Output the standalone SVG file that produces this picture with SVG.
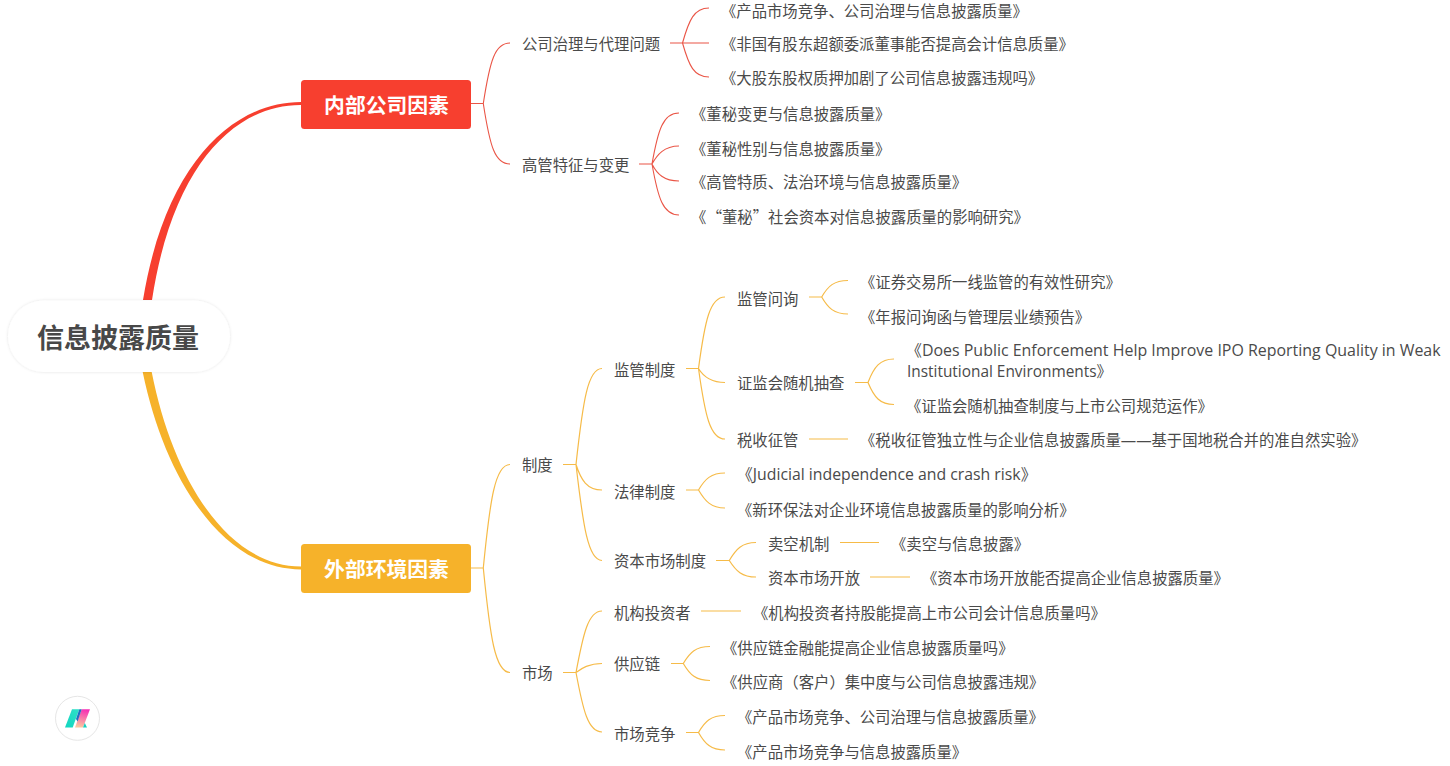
<svg xmlns="http://www.w3.org/2000/svg" width="1450" height="766" viewBox="0 0 1450 766">
<defs>
<style>
text{font-family:"Open Sans","Noto Sans CJK SC",sans-serif;font-size:15.35px;fill:#4a4a4a}
text.la{font-size:15.95px}
text.cjk{font-family:"Noto Sans CJK SC",sans-serif}
.r{fill:none;stroke:#ea5546;stroke-width:1.1}
.o{fill:none;stroke:#f6bb48;stroke-width:1.2}
text.main{font-family:"Noto Sans CJK SC",sans-serif;font-weight:700;font-size:20.8px;fill:#fff;text-anchor:middle}
text.root{font-family:"Noto Sans CJK SC",sans-serif;font-weight:700;font-size:27px;fill:#484848;text-anchor:middle}
</style>
<filter id="sh" x="-10%" y="-20%" width="120%" height="140%"><feDropShadow dx="0" dy="0" stdDeviation="1.5" flood-color="#000" flood-opacity="0.12"/></filter>
<linearGradient id="g1" x1="0" y1="1" x2="1" y2="0"><stop offset="0" stop-color="#12d6c0"/><stop offset="1" stop-color="#2fe0c8"/></linearGradient>
<linearGradient id="g2" x1="0.4" y1="1" x2="0.6" y2="0"><stop offset="0" stop-color="#fbc8a0"/><stop offset="1" stop-color="#f62fb4"/></linearGradient>
</defs>
<rect width="1450" height="766" fill="#fff"/>
<g id="connectors">
<path d="M143,300C165,165 232,102 301,102L301,105C233,104.5 172,168 152,300Z" fill="#f73f2f"/>
<path d="M142.7,372C166,485 226,569.5 301,569.5L301,566.5C228,566.5 173,480 151.7,372Z" fill="#f6b22a"/>
<g class="r">
<path d="M471,103.5H483.3M483.3,103.5C490,60 495,43 510,43M483.3,103.5C490,147 495,164 510,164"/>
<path d="M670,43H709M682.5,43C689,20 694,8 709,8M682.5,43C689,66 694,77 709,77"/>
<path d="M639,164H652M652,164C658,130 663,113 679,113M652,164C657,155 664,146 679,146M652,164C657,174 664,181 679,181M652,164C658,198 663,215 679,215"/>
</g>
<g class="o">
<path d="M471,568H483.3M483.3,568C490,500 495,464.5 510,464.5M483.3,568C490,636 495,672.5 510,672.5"/>
<path d="M563,464.5H576M576,464.5C583,400 588,368.5 602,368.5M576,464.5C581,480 587,490 602,490M576,464.5C583,525 588,560.5 602,560.5"/>
<path d="M686,368.5H698.5M698.5,368.5C705,320 710,297 725,297M698.5,368.5C703,376 710,382.5 725,382.5M698.5,368.5C705,415 710,439 725,439"/>
<path d="M809,297H821.7M821.7,297C828,286 834,280.5 848,280.5M821.7,297C828,308 834,314 848,314"/>
<path d="M855,382.5H868M868,382.5C874,367 880,359 894,359M868,382.5C874,397 880,404.5 894,404.5"/>
<path d="M809,439H848"/>
<path d="M686,490H698.5M698.5,490C705,479 711,473 725,473M698.5,490C705,501 711,508 725,508"/>
<path d="M716,560.5H729.3M729.3,560.5C736,549 742,542.5 756,542.5M729.3,560.5C736,571 742,577 756,577"/>
<path d="M840,542.5H879M870,577H910M701,611H741"/>
<path d="M563,672.5H576M576,672.5C583,635 588,611 602,611M576,672.5C581,669 588,663.5 602,663.5M576,672.5C583,710 588,732 602,732"/>
<path d="M671,663.5H683.3M683.3,663.5C690,652 696,646.5 710,646.5M683.3,663.5C690,675 696,680.5 710,680.5"/>
<path d="M686,732.5H698.5M698.5,732.5C705,721 711,715.5 725,715.5M698.5,732.5C705,744 711,750 725,750"/>
</g>
</g>
<g id="root"><rect x="8" y="300.5" width="222" height="71.5" rx="35.7" fill="#fff" filter="url(#sh)"/><text class="root" x="118" y="348">信息披露质量</text></g>
<g id="n-internal"><rect x="301" y="80" width="170" height="49" rx="3.5" fill="#f73f2f"/><text class="main" x="386.5" y="113">内部公司因素</text></g>
<g id="n-external"><rect x="301" y="544" width="170" height="49" rx="3.5" fill="#f6b22a"/><text class="main" x="386.5" y="577">外部环境因素</text></g>
<g id="n1"><text x="522" y="50">公司治理与代理问题</text></g>
<g id="n2"><text x="721" y="17">《产品市场竞争、公司治理与信息披露质量》</text></g>
<g id="n3"><text x="721" y="50">《非国有股东超额委派董事能否提高会计信息质量》</text></g>
<g id="n4"><text x="721" y="84">《大股东股权质押加剧了公司信息披露违规吗》</text></g>
<g id="n5"><text x="522" y="171">高管特征与变更</text></g>
<g id="n6"><text x="691" y="120">《董秘变更与信息披露质量》</text></g>
<g id="n7"><text x="691" y="155">《董秘性别与信息披露质量》</text></g>
<g id="n8"><text x="691" y="188">《高管特质、法治环境与信息披露质量》</text></g>
<g id="n9"><text class="cjk" x="691" y="223">《<tspan dx="8">“董秘”社会资本对信息披露质量的影响研究》</tspan></text></g>
<g id="n10"><text x="522" y="471">制度</text></g>
<g id="n11"><text x="614" y="376">监管制度</text></g>
<g id="n12"><text x="737" y="305">监管问询</text></g>
<g id="n13"><text x="860" y="288">《证券交易所一线监管的有效性研究》</text></g>
<g id="n14"><text x="860" y="323">《年报问询函与管理层业绩预告》</text></g>
<g id="n15"><text x="737" y="389">证监会随机抽查</text></g>
<g id="n16"><text class="la" x="906" y="356">《Does Public Enforcement Help Improve IPO Reporting Quality in Weak</text><text x="907" y="377" style="font-size:15.4px">Institutional Environments》</text></g>
<g id="n17"><text x="906" y="412">《证监会随机抽查制度与上市公司规范运作》</text></g>
<g id="n18"><text x="737" y="446">税收征管</text></g>
<g id="n19"><text x="860" y="446">《税收征管独立性与企业信息披露质量——基于国地税合并的准自然实验》</text></g>
<g id="n20"><text x="614" y="498">法律制度</text></g>
<g id="n21"><text x="737" y="480" style="font-size:15.8px">《Judicial independence and crash risk》</text></g>
<g id="n22"><text x="737" y="516">《新环保法对企业环境信息披露质量的影响分析》</text></g>
<g id="n23"><text x="614" y="567">资本市场制度</text></g>
<g id="n24"><text x="768" y="550">卖空机制</text></g>
<g id="n25"><text x="891" y="550">《卖空与信息披露》</text></g>
<g id="n26"><text x="768" y="584">资本市场开放</text></g>
<g id="n27"><text x="922" y="584">《资本市场开放能否提高企业信息披露质量》</text></g>
<g id="n28"><text x="522" y="679">市场</text></g>
<g id="n29"><text x="614" y="619">机构投资者</text></g>
<g id="n30"><text x="753" y="619">《机构投资者持股能提高上市公司会计信息质量吗》</text></g>
<g id="n31"><text x="614" y="670">供应链</text></g>
<g id="n32"><text x="722" y="654">《供应链金融能提高企业信息披露质量吗》</text></g>
<g id="n33"><text x="722" y="688">《供应商（客户）集中度与公司信息披露违规》</text></g>
<g id="n34"><text x="614" y="740">市场竞争</text></g>
<g id="n35"><text x="737" y="723">《产品市场竞争、公司治理与信息披露质量》</text></g>
<g id="n36"><text x="737" y="758">《产品市场竞争与信息披露质量》</text></g>
<g id="logo"><circle cx="77.5" cy="718.3" r="22" fill="#fff" stroke="#e6e6e6"/>
<path d="M65,727.5L72,709.3H79.3L72.7,727.5Z" fill="url(#g1)"/>
<path d="M81.7,709.3H90L83,727.5H75Z" fill="url(#g2)"/>
<path d="M76,719L79.3,709.3H81.7L77.6,721.5Z" fill="#1f6fc0"/>
<path d="M83,727.5L84.8,723L87,727.5Z" fill="#17cfc0"/></g>
</svg>
